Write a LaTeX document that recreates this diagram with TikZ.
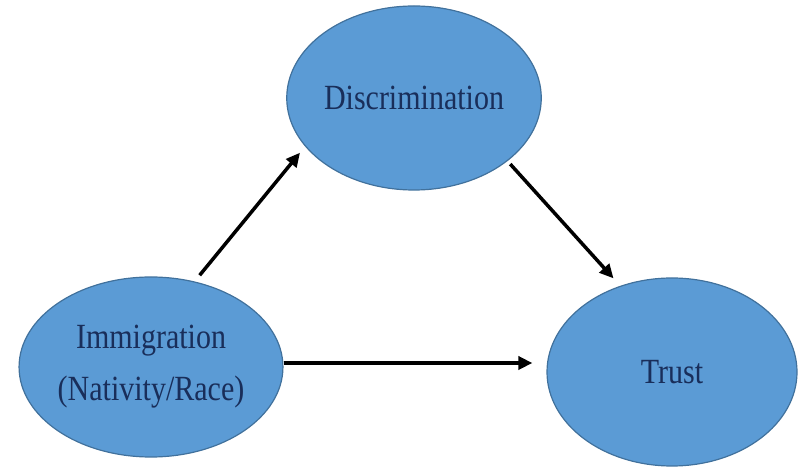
\documentclass[tikz,border=0pt]{standalone}
\usepackage{fontspec}
\setmainfont{Liberation Serif}
\usetikzlibrary{shapes.geometric,arrows.meta}
\definecolor{bubblefill}{RGB}{91,155,213}
\definecolor{bubbleline}{RGB}{65,113,156}
\definecolor{textblue}{RGB}{25,46,90}
\newcommand{\tall}[1]{\scalebox{1}[1.18]{#1}}
\begin{document}
\begin{tikzpicture}[x=1pt,y=1pt,
  bubble/.style={ellipse,draw=bubbleline,line width=1.2pt,fill=bubblefill,text=textblue,inner sep=0pt,align=center,font=\fontsize{30}{52}\selectfont},
  link/.style={->,line width=3.5pt},
  >={Triangle[length=14pt,width=13pt]}]
  \useasboundingbox (0,0) rectangle (805,468);
  \node[bubble,minimum width=252,minimum height=184] (disc) at (414,370) {\tall{Discrimination}};
  \node[bubble,minimum width=252,minimum height=180] (imm) at (151,101) {\tall{Immigration}\\\tall{(Nativity/Race)}};
  \node[bubble,minimum width=250,minimum height=188] (trust) at (672,96) {\tall{Trust}};
  \draw[link,shorten <=8pt,shorten >=8pt] (imm.63) -- (disc.204);
  \draw[link,shorten <=4pt,shorten >=10pt] (disc.-34) -- (trust.121);
  \draw[link,shorten >=14pt] ([yshift=4pt]imm.east) -- ([yshift=4pt]imm.east -| trust.west);
\end{tikzpicture}
\end{document}
